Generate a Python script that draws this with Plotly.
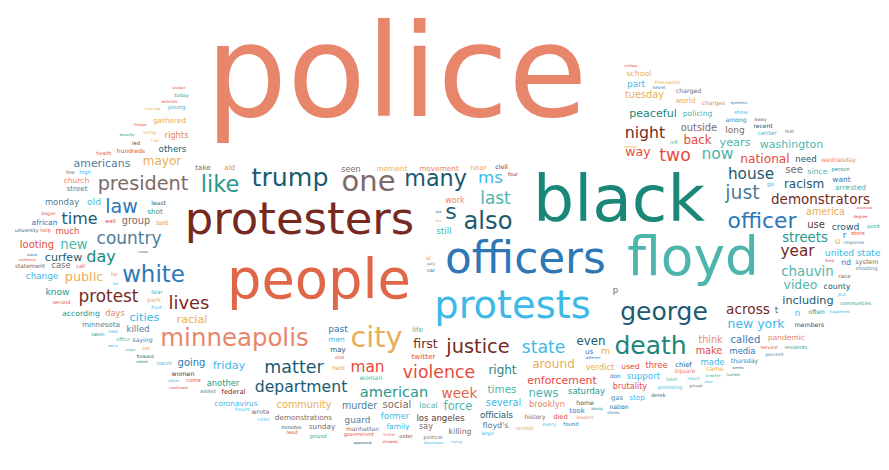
import plotly.graph_objects as go

WORDS = [
    "police", "black", "protesters", "people", "officers", "floyd", "protests", "white", "george", "minneapolis",
    "trump", "one", "many", "president", "like", "city", "death", "justice", "also", "violence",
    "matter", "department", "american", "officer", "law", "country", "protest", "lives", "time", "day",
    "demonstrators", "house", "just", "night", "two", "now", "year", "across", "streets", "chauvin",
    "national", "racism", "washington", "years", "back", "peaceful", "tuesday", "state", "ms", "last",
    "s", "even", "around", "right", "week", "enforcement", "man", "first", "mayor", "americans",
    "others", "new", "public", "cities", "racial", "going", "friday", "another", "federal", "coronavirus",
    "community", "murder", "social", "local", "demonstrations", "guard", "former", "los angeles", "sunday", "manhattan",
    "family", "say", "past", "men", "may", "twitter", "life", "woman", "held", "end",
    "wrote", "color", "hours", "minutes", "read", "ground", "government", "knew", "order", "political",
    "showed", "appeared", "downtown", "times", "news", "saturday", "brutality", "protesting", "force", "several",
    "brooklyn", "home", "gas", "stop", "derek", "nation", "along", "took", "stores", "officials",
    "history", "died", "leaders", "floyd's", "unrest", "every", "found", "killing", "large", "trying",
    "us", "m", "different", "verdict", "used", "three", "chief", "don", "support", "later",
    "think", "called", "pandemic", "make", "media", "service", "residents", "percent", "made", "thursday",
    "square", "came", "weeks", "breathe", "turned", "reach", "clear", "groups", "new york", "members",
    "including", "communities", "often", "happened", "n", "t", "video", "county", "put", "race",
    "united states", "fired", "nd", "system", "shooting", "r", "store", "u", "response", "use",
    "crowd", "point", "america", "degree", "unarmed", "arrested", "go", "want", "see", "since",
    "person", "need", "wednesday", "way", "central", "left", "outside", "long", "recent", "center",
    "feel", "among", "away", "policing", "show", "charged", "world", "charges", "systemic", "school",
    "military", "thousands", "part", "never", "seen", "moment", "movement", "near", "civil", "four",
    "work", "still", "few", "fire", "al", "jury", "car", "p", "take", "aid",
    "rights", "gathered", "young", "today", "student", "activists", "interview", "troops", "security", "using",
    "trial", "led", "health", "hundreds", "few", "high", "church", "street", "monday", "old",
    "least", "shot", "began", "african", "well", "group", "told", "university", "help", "much",
    "looting", "cases", "island", "california", "curfew", "statement", "case", "call", "far", "change",
    "lot", "know", "tear", "second", "park", "front", "according", "days", "minnesota", "killed",
    "taken", "next", "office", "saying", "we're", "anger", "set", "forward", "asked", "march",
    "women", "place", "come", "continued", "added",
]

# word extents (left / right edge) and baseline, in pixels
X_LEFT = [
    190, 522, 170, 215, 433, 617, 422, 113, 610, 148,
    242, 333, 395, 87, 192, 342, 605, 437, 455, 393,
    255, 244, 350, 718, 97, 87, 69, 160, 53, 78,
    760, 719, 717, 616, 651, 693, 772, 717, 773, 772,
    731, 775, 750, 711, 675, 620, 616, 513, 470, 472,
    438, 568, 523, 480, 433, 517, 342, 405, 134, 64,
    150, 52, 56, 121, 168, 169, 204, 198, 213, 205,
    267, 333, 374, 411, 265, 336, 372, 407, 300, 337,
    378, 411, 320, 320, 322, 403, 404, 351, 324, 327,
    243, 249, 227, 273, 278, 301, 335, 375, 391, 415,
    374, 345, 415, 479, 520, 559, 604, 649, 435, 477,
    520, 568, 603, 621, 643, 601, 583, 561, 599, 471,
    516, 545, 568, 474, 507, 534, 555, 440, 473, 443,
    577, 593, 577, 577, 613, 637, 667, 602, 618, 658,
    690, 722, 759, 687, 721, 752, 776, 757, 692, 722,
    666, 698, 724, 697, 718, 679, 696, 681, 718, 786,
    773, 831, 800, 821, 787, 767, 775, 815, 830, 830,
    815, 817, 833, 847, 847, 835, 843, 827, 835, 799,
    823, 859, 797, 845, 851, 826, 759, 824, 777, 799,
    823, 787, 812, 617, 616, 662, 672, 717, 745, 749,
    777, 717, 746, 674, 726, 667, 667, 693, 722, 618,
    616, 646, 619, 644, 333, 368, 410, 462, 487, 500,
    437, 428, 428, 428, 418, 419, 419, 605, 187, 216,
    156, 144, 159, 166, 167, 153, 136, 126, 111, 135,
    143, 124, 88, 108, 58, 71, 55, 58, 36, 79,
    143, 139, 33, 23, 97, 113, 148, 6, 32, 47,
    11, 130, 20, 10, 36, 6, 43, 68, 103, 17,
    105, 37, 143, 44, 139, 143, 53, 97, 73, 118,
    83, 100, 108, 124, 101, 117, 134, 128, 128, 148,
    163, 160, 178, 161, 192,
]
X_RIGHT = [
    587, 700, 413, 407, 602, 753, 587, 178, 702, 305,
    322, 388, 460, 183, 232, 395, 680, 503, 505, 469,
    317, 342, 422, 790, 130, 155, 132, 202, 90, 108,
    865, 767, 752, 658, 683, 726, 807, 763, 821, 827,
    783, 817, 817, 743, 704, 670, 657, 558, 495, 503,
    448, 598, 568, 509, 470, 591, 377, 430, 174, 124,
    179, 80, 96, 152, 200, 198, 238, 232, 238, 251,
    325, 370, 404, 430, 326, 363, 402, 458, 328, 372,
    402, 425, 340, 337, 338, 428, 415, 375, 337, 336,
    262, 262, 242, 294, 290, 319, 367, 387, 405, 435,
    390, 364, 436, 509, 551, 598, 640, 675, 465, 514,
    558, 586, 615, 637, 658, 621, 595, 577, 612, 506,
    538, 560, 586, 501, 526, 548, 571, 464, 486, 454,
    585, 602, 593, 607, 632, 660, 684, 613, 653, 670,
    715, 753, 798, 715, 748, 770, 800, 776, 717, 751,
    688, 716, 736, 713, 732, 692, 705, 695, 778, 817,
    827, 864, 817, 842, 792, 770, 810, 843, 838, 843,
    879, 826, 843, 871, 870, 838, 857, 832, 857, 817,
    852, 872, 838, 860, 861, 859, 766, 843, 795, 820,
    842, 809, 849, 643, 629, 670, 710, 737, 765, 769,
    786, 739, 759, 705, 740, 694, 688, 718, 740, 644,
    630, 673, 637, 658, 353, 400, 452, 479, 500, 510,
    457, 444, 433, 433, 423, 427, 427, 610, 203, 227,
    181, 179, 178, 181, 175, 170, 153, 139, 127, 148,
    151, 132, 104, 138, 67, 83, 82, 80, 72, 93,
    158, 155, 48, 50, 108, 143, 160, 31, 43, 72,
    47, 140, 28, 28, 75, 38, 63, 77, 110, 51,
    110, 62, 155, 63, 153, 154, 93, 117, 113, 142,
    97, 110, 122, 145, 109, 128, 142, 146, 140, 164,
    187, 171, 193, 180, 208,
]
BASELINE = [
    110, 215, 228, 292, 267, 269, 312, 276, 314, 340,
    180, 185, 180, 184, 186, 341, 348, 347, 223, 372,
    367, 386, 391, 222, 207, 238, 296, 303, 218, 256,
    198, 173, 193, 132, 155, 153, 250, 308, 236, 270,
    157, 182, 142, 140, 138, 111, 92, 347, 177, 198,
    213, 339, 362, 368, 392, 378, 366, 342, 159, 161,
    146, 243, 275, 315, 317, 360, 363, 380, 388, 400,
    402, 403, 402, 402, 414, 417, 413, 415, 423, 425,
    423, 423, 326, 336, 346, 353, 326, 374, 364, 353,
    408, 415, 405, 423, 428, 432, 430, 430, 432, 433,
    437, 438, 438, 387, 391, 388, 383, 383, 404, 400,
    401, 399, 394, 394, 391, 403, 404, 407, 408, 412,
    413, 413, 413, 422, 424, 420, 420, 428, 429, 437,
    348, 348, 353, 364, 363, 362, 361, 372, 373, 375,
    337, 337, 334, 348, 348, 343, 343, 350, 359, 357,
    367, 365, 363, 371, 370, 374, 377, 381, 322, 321,
    298, 299, 308, 307, 310, 307, 283, 283, 290, 272,
    250, 256, 259, 258, 264, 232, 229, 238, 238, 222,
    224, 222, 209, 212, 203, 184, 180, 176, 167, 168,
    165, 156, 156, 150, 142, 138, 125, 127, 122, 129,
    127, 116, 115, 110, 108, 87, 97, 99, 98, 70,
    61, 78, 81, 83, 166, 165, 165, 164, 163, 170,
    197, 228, 207, 216, 254, 259, 266, 287, 164, 164,
    132, 117, 103, 91, 83, 97, 104, 120, 130, 128,
    136, 139, 149, 147, 168, 168, 177, 185, 199, 199,
    199, 208, 209, 219, 217, 218, 219, 226, 226, 228,
    242, 247, 250, 255, 255, 262, 262, 262, 270, 273,
    279, 289, 288, 298, 296, 303, 310, 310, 321, 326,
    330, 327, 335, 336, 341, 345, 344, 352, 357, 359,
    370, 376, 376, 383, 387,
]
COLOR_KEY = [
    "CO", "TE", "MR", "OR", "BL", "LT", "SK", "BL", "NV", "CO",
    "NV", "TP", "NV", "TP", "GR", "GD", "TE", "MR", "NV", "RD",
    "NV", "NV", "GR", "BL", "BL", "SL", "MR", "MR", "NV", "TE",
    "MR", "NV", "SL", "MR", "RD", "LT", "MR", "MR", "GR", "LT",
    "RD", "NV", "LT", "LT", "RD", "TE", "GD", "SK", "SK", "LT",
    "NV", "NV", "GD", "TE", "OR", "RD", "RD", "MR", "GD", "SL",
    "NV", "LT", "GD", "SK", "GD", "BL", "SK", "GR", "MR", "SK",
    "GD", "SL", "TP", "LT", "TP", "SL", "SK", "DK", "TP", "TP",
    "SK", "TP", "BL", "SK", "NV", "RD", "LT", "LT", "GD", "RD",
    "TP", "SK", "SK", "NV", "RD", "GR", "RD", "CO", "DK", "TP",
    "RD", "NV", "SK", "LT", "LT", "GR", "RD", "SK", "LT", "SK",
    "CO", "NV", "SL", "SK", "NV", "NV", "GR", "BL", "SL", "NV",
    "TP", "RD", "CO", "SL", "GD", "SK", "BL", "TP", "SK", "SK",
    "BL", "GD", "BL", "GD", "RD", "RD", "NV", "BL", "SK", "LT",
    "CO", "BL", "CO", "RD", "BL", "RD", "GR", "SL", "SK", "SL",
    "CO", "GD", "SL", "LT", "GR", "SK", "SK", "TP", "SK", "DK",
    "NV", "GR", "GR", "SK", "SK", "TP", "LT", "NV", "SK", "TP",
    "SK", "RD", "BL", "TP", "SL", "BL", "RD", "GD", "SL", "DK",
    "NV", "GR", "GD", "RD", "RD", "LT", "SK", "BL", "TP", "LT",
    "GR", "NV", "CO", "RD", "GD", "LT", "TP", "TP", "NV", "SK",
    "TP", "SL", "TP", "LT", "SK", "TP", "GD", "CO", "BL", "GD",
    "RD", "GD", "SK", "BL", "TP", "GD", "CO", "GD", "MR", "MR",
    "CO", "LT", "SL", "GD", "GD", "TP", "NV", "TP", "TP", "CO",
    "CO", "GD", "SK", "GR", "RD", "RD", "GD", "RD", "GR", "GD",
    "GD", "DK", "RD", "RD", "TP", "SK", "CO", "SL", "SL", "SK",
    "NV", "GR", "RD", "BL", "RD", "TP", "CO", "NV", "RD", "RD",
    "RD", "TP", "BL", "RD", "NV", "TP", "TP", "RD", "CO", "SK",
    "SK", "GR", "LT", "RD", "GD", "SK", "GR", "CO", "SL", "SL",
    "GR", "SK", "LT", "SL", "SK", "LT", "GD", "NV", "SL", "SK",
    "DK", "SK", "RD", "RD", "SL",
]

PALETTE = {
    "CO": "#E8866B", "OR": "#E0664A", "RD": "#E64A3E", "MR": "#762A1F",
    "TE": "#1B8778", "LT": "#4DB6AC", "GR": "#28998B", "BL": "#2E77B5",
    "SK": "#3DB9E8", "NV": "#1B5A70", "GD": "#E8AE55", "TP": "#7C6B67",
    "SL": "#4F7D98", "DK": "#5E3A33",
}

FONT = "DejaVu Sans"
HEIGHT_FIT = 0.93  # DejaVu glyphs are a little taller than the reference face
# DejaVu Sans advance widths (em)
ADV = {
    'a': .613, 'b': .635, 'c': .550, 'd': .635, 'e': .615, 'f': .352, 'g': .635,
    'h': .634, 'i': .278, 'j': .278, 'k': .579, 'l': .278, 'm': .974, 'n': .634,
    'o': .612, 'p': .635, 'q': .635, 'r': .411, 's': .521, 't': .392, 'u': .634,
    'v': .592, 'w': .818, 'x': .592, 'y': .592, 'z': .525, ' ': .318, "'": .275,
}

n = len(WORDS)
assert n == len(X_LEFT) == len(X_RIGHT) == len(BASELINE) == len(COLOR_KEY), (
    n, len(X_LEFT), len(X_RIGHT), len(BASELINE), len(COLOR_KEY))


def em_width(word):
    return max(sum(ADV.get(ch, 0.6) for ch in word) - 0.1, 0.3)


sizes, xs, ys, colors = [], [], [], []
for w, a, b, base, ck in zip(WORDS, X_LEFT, X_RIGHT, BASELINE, COLOR_KEY):
    s = max(HEIGHT_FIT * (b - a) / em_width(w), 3.5)
    sizes.append(s)
    xs.append((a + b) / 2)
    ys.append(base - 0.25 * s - 2)
    colors.append(PALETTE[ck])

fig = go.Figure(go.Scatter(
    x=xs, y=ys, mode="text", text=WORDS,
    textposition="middle center",
    textfont=dict(family=FONT, size=sizes, color=colors),
    hoverinfo="text", cliponaxis=False, showlegend=False,
))

fig.update_layout(
    width=889, height=470,
    margin=dict(l=0, r=0, t=0, b=0),
    paper_bgcolor="white", plot_bgcolor="white",
    xaxis=dict(range=[0, 889], visible=False, fixedrange=True),
    yaxis=dict(range=[470, 0], visible=False, fixedrange=True),
)

fig.write_html("out.html", config={"displayModeBar": False})
